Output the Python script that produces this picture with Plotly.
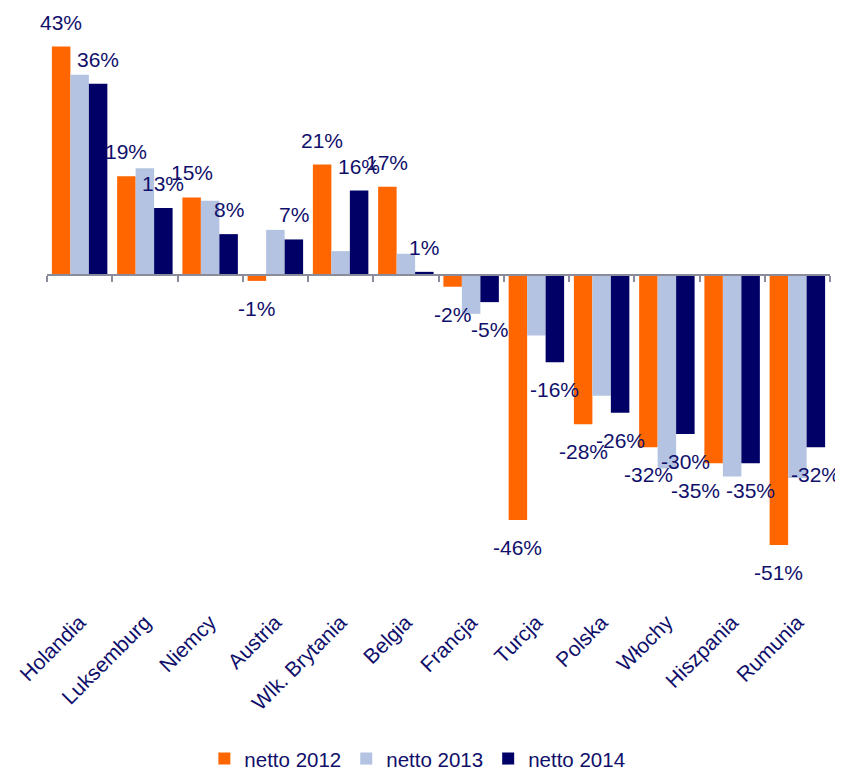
import plotly.graph_objects as go

countries = ["Holandia", "Luksemburg", "Niemcy", "Austria", "Wlk. Brytania", "Belgia",
             "Francja", "Turcja", "Polska", "Włochy", "Hiszpania", "Rumunia"]
netto_2012 = [43.0, 18.6, 14.6, -1.1, 20.8, 16.6, -2.2, -46.1, -28.1, -32.4, -35.4, -50.8]
netto_2013 = [37.7, 20.1, 14.0, 8.5, 4.5, 4.0, -7.3, -11.4, -22.7, -36.4, -37.9, -38.2]
netto_2014 = [36.0, 12.6, 7.7, 6.7, 15.9, 0.6, -5.1, -16.4, -25.9, -29.9, -35.4, -32.4]
series_names = ["netto 2012", "netto 2013", "netto 2014"]

colors = ["#FF6600", "#B3C3E1", "#000066"]
text_color = "#10106b"
font_family = "Liberation Sans, Arial, sans-serif"

W, H = 843, 770
# page body adds ~8px offset, so margins are shifted a bit
margin = dict(l=39, r=21, t=12, b=173)
bargap = 0.15
y_range = [-62.1, 48.0]

series = [netto_2012, netto_2013, netto_2014]
show_labels = [True, False, True]
# one label in the original sits one bar to the left
label_nudge = {(0, "Hiszpania"): -1}

fig = go.Figure()
for name, vals, col in zip(series_names, series, colors):
    fig.add_trace(go.Bar(x=countries, y=vals, name=name, marker_color=col,
                         marker_line_width=0))

# helper trace so the zero-line axis gets the same categories
fig.add_trace(go.Scatter(x=countries, y=[None] * len(countries), xaxis="x2",
                         showlegend=False, hoverinfo="skip"))

plot_w = W - margin["l"] - margin["r"]
bar_w = plot_w / len(countries) * (1 - bargap) / len(series)

for si, vals in enumerate(series):
    if not show_labels[si]:
        continue
    for c, v in zip(countries, vals):
        off = si - 1 + label_nudge.get((si, c), 0)
        fig.add_annotation(x=c, y=v, xref="x", yref="y", text=f"{v:.0f}%",
                           showarrow=False, xshift=off * bar_w,
                           yanchor="bottom" if v >= 0 else "top",
                           yshift=11 if v >= 0 else -14,
                           font=dict(size=21, color=text_color, family=font_family))

zero_pos = (0 - y_range[0]) / (y_range[1] - y_range[0])

fig.update_layout(
    width=W, height=H, margin=margin,
    paper_bgcolor="white", plot_bgcolor="white",
    barmode="group", bargap=bargap, bargroupgap=0,
    font=dict(family=font_family, color=text_color),
    xaxis=dict(type="category", range=[-0.5, len(countries) - 0.5], showline=False,
               ticks="", tickangle=-45, showgrid=False, automargin=False,
               tickfont=dict(size=21, color=text_color)),
    xaxis2=dict(type="category", overlaying="x", anchor="free", position=zero_pos,
                range=[-0.5, len(countries) - 0.5], showline=True, linecolor="#8a8c9c",
                linewidth=2, ticks="outside", tickson="boundaries", ticklen=6,
                tickwidth=2, tickcolor="#8a8c9c", showticklabels=False, showgrid=False,
                automargin=False),
    yaxis=dict(range=y_range, visible=False, showgrid=False, zeroline=False,
               automargin=False),
    legend=dict(orientation="h", x=0.473, xanchor="center", yref="container",
                y=0.025, yanchor="middle",
                font=dict(size=20.5, color=text_color), itemwidth=30),
    showlegend=True,
)

fig.write_html("out.html")
